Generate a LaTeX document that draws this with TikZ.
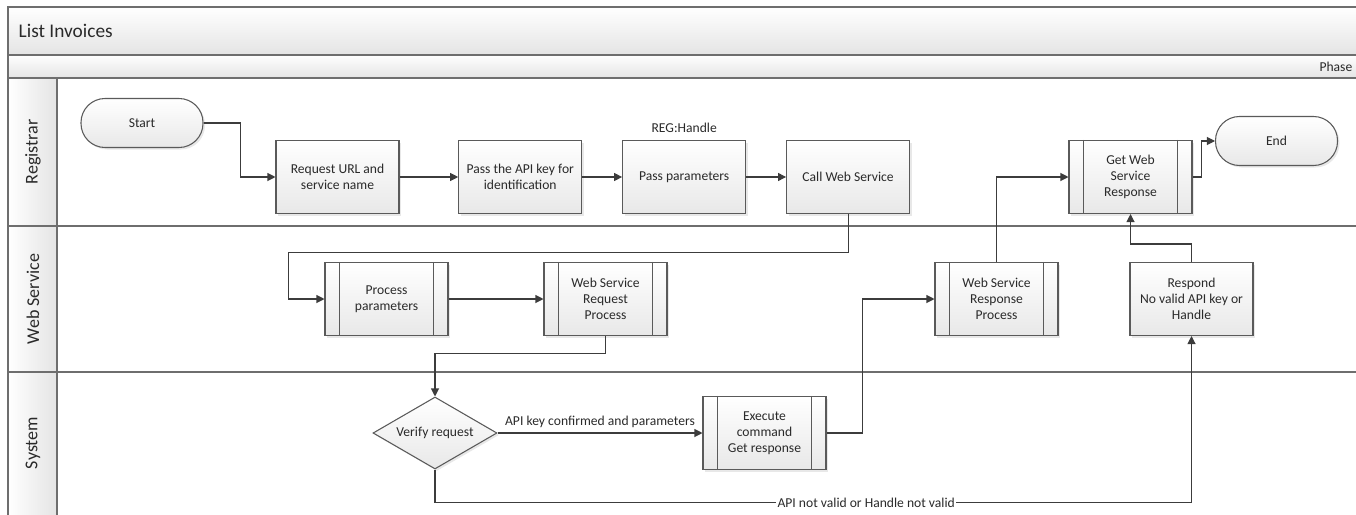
\documentclass[tikz,border=0pt]{standalone}
\usepackage{fontspec}
\setmainfont{Carlito}
\usetikzlibrary{arrows.meta,positioning,shapes.geometric,shadows}
\definecolor{barfill}{HTML}{E4E4E4}
\definecolor{boxfill}{HTML}{E8E8E8}
\definecolor{boxline}{HTML}{5A5A5A}
\definecolor{wire}{HTML}{3C3C3C}
\definecolor{laneline}{HTML}{6E6E6E}
\definecolor{txt}{HTML}{2A2A2A}

\begin{document}
\begin{tikzpicture}[x=0.75pt,y=-0.75pt,node distance=29.9pt,
    font=\fontsize{10.2}{12.2}\selectfont,text=txt]
  \tikzstyle{task}=[rectangle,draw=boxline,line width=0.8pt,top color=white,bottom color=boxfill,
    minimum width=92.25pt,minimum height=54.75pt,align=center,
    drop shadow={shadow xshift=1.5pt,shadow yshift=-1.5pt,opacity=0.18}]
  \tikzstyle{sub}=[task]
  \tikzstyle{term}=[task,rounded corners=18pt,minimum width=91.5pt,minimum height=36.75pt]
  \tikzstyle{check}=[diamond,aspect=1.72,draw=boxline,line width=0.8pt,top color=white,bottom color=boxfill,
    minimum width=93pt,minimum height=54pt,inner sep=0pt,
    drop shadow={shadow xshift=1.5pt,shadow yshift=-1.5pt,opacity=0.18}]
  \tikzstyle{flow}=[draw=wire,line width=0.8pt,-{Triangle[length=6pt,width=6pt]}]
  \tikzstyle{lane}=[draw=laneline,line width=0.9pt]
  \tikzstyle{lanename}=[rotate=90,font=\fontsize{13.5}{16}\selectfont]

  \useasboundingbox (0,0) rectangle (1356,514);
  \clip (0,0) rectangle (1356,514);

  % pool and lanes
  \shade[top color=white,bottom color=barfill] (8,7) rectangle (1362,55);
  \shade[top color=white,bottom color=barfill] (8,55) rectangle (1362,78);
  \shade[left color=white,right color=barfill] (8,78) rectangle (57,520);
  \draw[lane] (8,7) rectangle (1362,520);
  \draw[lane] (8,55) -- (1362,55) (8,78) -- (1362,78) (8,226) -- (1362,226)
    (8,372) -- (1362,372) (57,78) -- (57,520);
  \node[anchor=west,font=\fontsize{14.5}{17}\selectfont] (title) at (14,31) {List Invoices};
  \node[anchor=east] (phase) at (1357,67) {Phase};
  \node[lanename] (lreg) at (33,152) {Registrar};
  \node[lanename] (lweb) at (33,299) {Web Service};
  \node[lanename] (lsys) at (33,443) {System};

  % Registrar
  \node[term] (start) at (142,123) {Start};
  \node[task] (req) at (337.5,177) {Request URL and\\service name};
  \node[task,right=44pt of req] (key) {Pass the API key for\\identification};
  \node[task,right=of key] (par) {Pass parameters};
  \node[task,right=of par] (call) {Call Web Service};
  \node[above=2pt of par] (handle) {REG:Handle};
  \node[sub] (getresp) at (1130.5,177) {Get Web\\Service\\Response};
  \node[term] (finish) at (1276.5,141) {End};

  % Web Service
  \node[sub] (procpar) at (386.5,299) {Process\\parameters};
  \node[sub] (wsreq) at (605.5,299) {Web Service\\Request\\Process};
  \node[sub] (wsresp) at (996.5,299) {Web Service\\Response\\Process};
  \node[task] (respond) at (1191.5,299) {Respond\\No valid API key or\\Handle};

  % System
  \node[check] (verify) at (435,433) {Verify request};
  \node[sub] (exec) at (764.5,433) {Execute\\command\\Get response};

  % side bars of the predefined processes
  \foreach \s in {procpar,wsreq,wsresp,getresp,exec}
    \draw[boxline,line width=0.8pt] ([xshift=11pt]\s.north west) -- ([xshift=11pt]\s.south west)
      ([xshift=-11pt]\s.north east) -- ([xshift=-11pt]\s.south east);

  \draw[flow] (start.east) -- ++(37,0) |- (req.west);
  \draw[flow] (req) -- (key);
  \draw[flow] (key) -- (par);
  \draw[flow] (par) -- (call);
  \draw[flow] (call.south) -- ++(0,38) -| ([xshift=-27pt]procpar.west) -- (procpar.west);
  \draw[flow] (procpar) -- (wsreq);
  \draw[flow] (wsreq.south) -- ++(0,17) -| (verify.north);
  \draw[flow] (verify) -- node[above] {API key confirmed and parameters} (exec);
  \draw[flow] (exec.east) -- ++(36,0) |- (wsresp.west);
  \draw[flow] (wsresp.north) |- (getresp.west);
  \draw[flow] (getresp.east) -- ++(9,0) |- (finish.west);
  \draw[flow] (respond.north) -- ++(0,-18) -| (getresp.south);
  \draw[flow] (verify.south) -- ++(0,33) -| node[pos=0.285,fill=white,inner sep=1pt]
    {API not valid or Handle not valid} (respond.south);
\end{tikzpicture}
\end{document}
